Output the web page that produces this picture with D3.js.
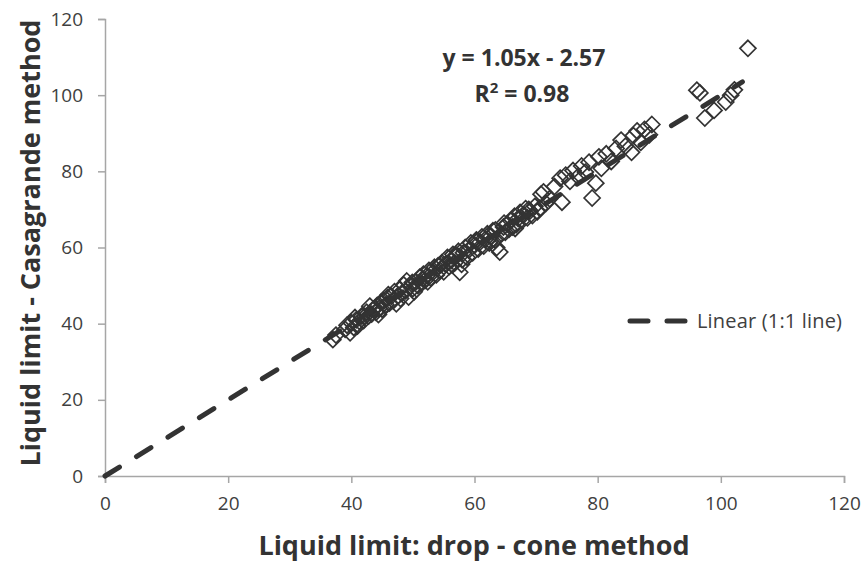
<!DOCTYPE html>
<html>
<head>
<meta charset="utf-8">
<script src="https://cdn.jsdelivr.net/npm/d3@7"></script>
<style>
body { margin: 0; background: #fff; }
svg text { font-family: "Open Sans", "Noto Sans", sans-serif; }
</style>
</head>
<body>
<script>
// drop-cone LL (x) vs Casagrande LL (y)
var coneLL = [37.0,37.5,39.0,39.3,39.8,40.0,40.4,40.8,41.0,41.3,41.7,42.0,42.2,42.5,42.8,43.0,43.3,43.6,44.0,44.2,
  44.5,44.8,45.0,45.3,45.6,45.9,46.2,46.5,46.8,47.0,47.3,47.6,47.9,48.2,48.5,48.8,49.0,49.3,49.6,49.9,
  50.2,50.5,50.8,51.1,51.4,51.7,52.0,52.3,52.6,52.9,53.2,53.5,53.8,54.1,54.4,54.7,55.0,55.3,55.6,55.9,
  56.2,56.5,56.8,57.1,57.4,57.6,57.9,58.2,58.5,58.8,59.1,59.4,59.7,60.0,60.3,60.6,60.9,61.2,61.5,61.8,
  62.1,62.4,62.7,63.0,63.3,63.6,64.1,64.4,64.7,65.0,65.3,65.6,65.9,66.2,66.5,66.8,67.1,67.4,67.7,68.0,
  68.3,68.6,69.0,69.4,69.8,70.2,70.6,70.8,71.2,71.6,72.2,73.0,73.9,74.2,74.8,75.5,76.0,76.8,77.4,78.0,
  78.6,79.1,79.7,80.2,80.6,81.4,82.2,83.0,83.8,84.5,85.5,85.8,86.4,87.0,87.6,88.4,88.8,96.1,96.6,97.4,
  98.9,100.8,101.6,102.2,104.4,
  40.6,43.8,46.0,48.0,50.0,52.4,54.6,56.4,58.0,60.2,62.6,64.8,66.6,68.8,44.4,51.6,57.0,63.4];
var casaLL = [35.8,37.0,38.5,39.6,37.6,40.2,39.0,41.0,39.4,40.6,42.0,40.8,41.9,43.0,42.0,44.6,42.5,43.8,43.0,44.8,
  44.0,45.6,43.8,46.0,45.0,46.8,45.4,47.2,46.0,48.4,45.2,47.4,49.0,48.0,50.2,48.6,51.2,47.0,49.8,50.8,
  48.4,51.0,50.0,52.2,50.6,53.0,51.4,52.6,54.0,52.0,53.4,54.8,52.8,55.2,54.0,56.0,53.6,55.6,57.4,55.0,
  56.6,58.2,56.0,57.8,59.0,53.5,55.6,58.6,60.0,57.4,59.4,61.2,58.6,60.6,62.0,59.6,61.4,62.8,60.4,62.2,
  63.6,61.2,63.0,64.4,62.0,60.0,58.8,63.6,65.4,64.0,66.2,64.8,67.0,65.4,68.2,66.0,67.6,69.2,67.0,68.6,
  70.2,67.8,69.6,68.4,70.8,69.4,70.3,74.0,74.6,71.6,72.8,76.0,78.2,71.9,79.0,77.4,80.2,78.6,81.4,79.8,
  82.4,73.0,76.9,83.8,80.8,84.6,82.6,86.0,88.2,86.6,85.0,89.4,90.6,87.6,91.0,89.6,92.3,101.3,100.6,94.0,
  96.0,98.2,100.0,101.4,112.3,
  41.6,44.0,47.6,46.6,49.2,51.0,55.6,55.4,56.8,61.6,61.6,66.4,65.0,70.0,42.4,51.8,58.0,64.6];
var lineEnds = [0, 103.5];   // 1:1 line
var xTicks = [0, 20, 40, 60, 80, 100, 120];
var yTicks = [0, 20, 40, 60, 80, 100, 120];

var W = 864, H = 562;
var svg = d3.select("body").append("svg")
    .attr("width", W)
    .attr("height", H)

var x = d3.scaleLinear().domain([0, 120]).range([105, 844]);
var y = d3.scaleLinear().domain([0, 120]).range([476, 19]);

var axisColor = "#a6a6a6";
var textColor = "#404040";

// x axis
var gx = svg.append("g")
    .attr("transform", "translate(0," + y(0) + ")")
    .call(d3.axisBottom(x).tickValues(xTicks).tickSize(7).tickPadding(14).tickFormat(d3.format("d")));
// y axis
var gy = svg.append("g")
    .attr("transform", "translate(" + x(0) + ",0)")
    .call(d3.axisLeft(y).tickValues(yTicks).tickSize(7).tickPadding(15).tickFormat(d3.format("d")));

[gx, gy].forEach(function(g){
    g.select(".domain").attr("stroke", axisColor).attr("stroke-width", 1.5);
    g.selectAll(".tick line").attr("stroke", axisColor).attr("stroke-width", 1.5);
    g.selectAll(".tick text")
	.attr("fill", textColor)
	.attr("font-size", 19)
	.style("font-family", "'Open Sans', sans-serif");
});

// markers
var pts = coneLL.map(function(d, i){ return [d, casaLL[i]]; });
var r = 8;
svg.append("g").selectAll("path")
    .data(pts)
    .enter().append("path")
    .attr("d", function(d){
	var cx = x(d[0]), cy = y(d[1]);
	return "M" + cx + "," + (cy - r) + "L" + (cx + r) + "," + cy + "L" + cx + "," + (cy + r) + "L" + (cx - r) + "," + cy + "Z";
    })
    .attr("fill", "none")
    .attr("stroke", "#333")
    .attr("stroke-width", 1.7)

// 1:1 line
svg.append("line")
    .attr("x1", x(lineEnds[0]))
    .attr("y1", y(lineEnds[0]))
    .attr("x2", x(lineEnds[1]))
    .attr("y2", y(lineEnds[1]))
    .attr("stroke", "#333")
    .attr("stroke-width", 5)
    .attr("stroke-linecap", "round")
    .attr("stroke-dasharray", "17,20")

// legend
svg.append("line")
    .attr("x1", 630).attr("y1", 321)
    .attr("x2", 685).attr("y2", 321)
    .attr("stroke", "#333")
    .attr("stroke-width", 5)
    .attr("stroke-linecap", "round")
    .attr("stroke-dasharray", "18,19")
svg.append("text")
    .attr("x", 697)
    .attr("y", 328)
    .attr("fill", textColor)
    .attr("font-size", 20)
    .attr("textLength", 145)
    .text("Linear (1:1 line)")

// equation
svg.append("text")
    .attr("x", 524).attr("y", 66)
    .attr("text-anchor", "middle")
    .attr("font-size", 23)
    .attr("font-weight", "bold")
    .attr("fill", "#333")
    .text("y = 1.05x - 2.57")
var r2 = svg.append("text")
    .attr("x", 522).attr("y", 102)
    .attr("text-anchor", "middle")
    .attr("font-size", 23)
    .attr("font-weight", "bold")
    .attr("fill", "#333")
r2.append("tspan").text("R")
r2.append("tspan").attr("font-size", 15).attr("dy", -9).text("2")
r2.append("tspan").attr("dy", 9).text(" = 0.98")

// axis titles
svg.append("text")
    .attr("x", 474).attr("y", 555)
    .attr("text-anchor", "middle")
    .attr("font-size", 27)
    .attr("font-weight", "bold")
    .attr("fill", "#333")
    .text("Liquid limit: drop - cone method")
svg.append("text")
    .attr("transform", "translate(40,243) rotate(-90)")
    .attr("text-anchor", "middle")
    .attr("font-size", 27)
    .attr("font-weight", "bold")
    .attr("fill", "#333")
    .text("Liquid limit - Casagrande method")
</script>
</body>
</html>
